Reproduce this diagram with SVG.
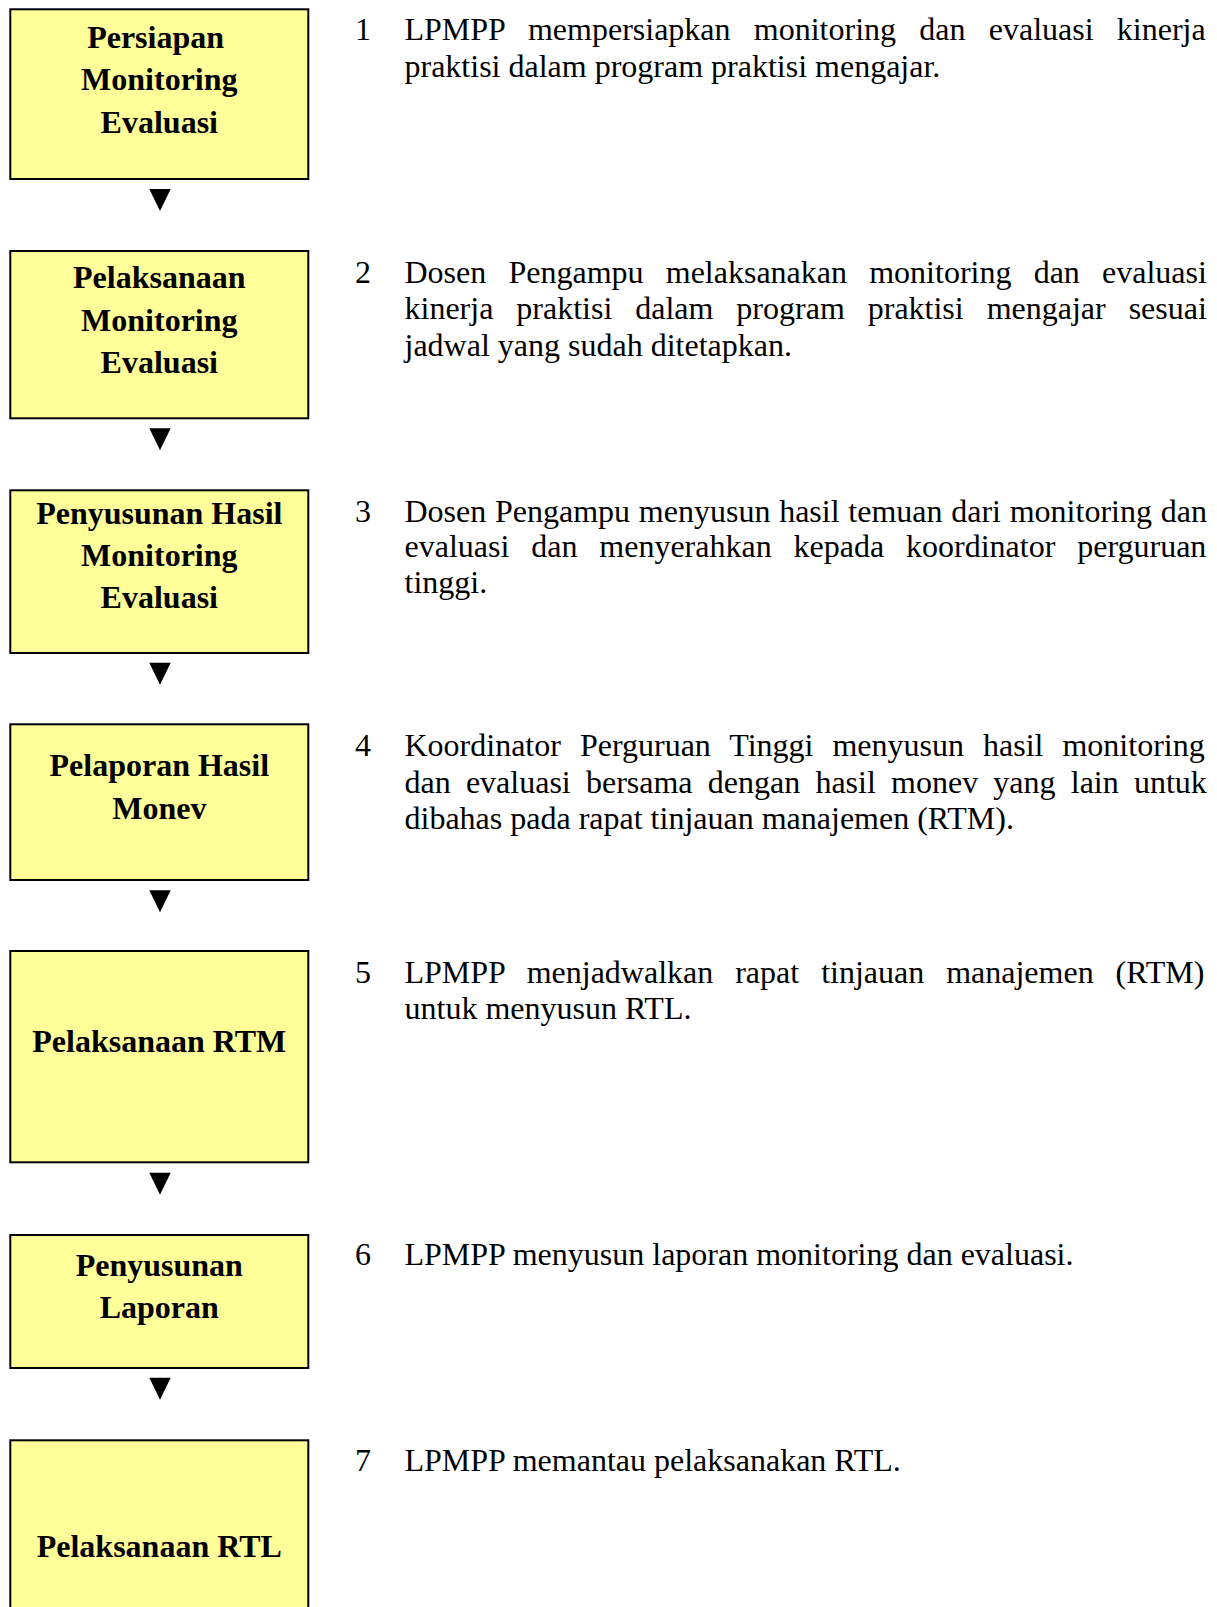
<svg xmlns="http://www.w3.org/2000/svg" width="1217" height="1607" viewBox="0 0 1217 1607">
<style>
.box{fill:#FFFF99;stroke:#000;stroke-width:2}
.bt{font-family:"Liberation Serif","Times New Roman",serif;font-weight:bold;font-size:32px;fill:#000;text-anchor:middle}
.tx{font-family:"Liberation Serif","Times New Roman",serif;font-size:32px;fill:#000}
.arr{fill:#000}
</style>
<rect width="1217" height="1607" fill="#fff"/>
<g id="connectors">
<polygon class="arr" points="149.3,189 170.7,189 160,211"/>
<polygon class="arr" points="149.3,428.3 170.7,428.3 160,450.3"/>
<polygon class="arr" points="149.3,662.7 170.7,662.7 160,684.7"/>
<polygon class="arr" points="149.3,890.3 170.7,890.3 160,912.3"/>
<polygon class="arr" points="149.3,1172.7 170.7,1172.7 160,1194.7"/>
<polygon class="arr" points="149.3,1377.7 170.7,1377.7 160,1399.7"/>
</g>
<g id="node1">
<rect class="box" x="10.3" y="9.3" width="298" height="169.7"/>
<text class="bt" x="155.6" y="48.3">Persiapan</text>
<text class="bt" x="159.3" y="90.3">Monitoring</text>
<text class="bt" x="159.3" y="132.5">Evaluasi</text>
</g>
<g id="node2">
<rect class="box" x="10.3" y="251" width="298" height="167.3"/>
<text class="bt" x="159.3" y="288.3">Pelaksanaan</text>
<text class="bt" x="159.3" y="330.7">Monitoring</text>
<text class="bt" x="159.3" y="372.7">Evaluasi</text>
</g>
<g id="node3">
<rect class="box" x="10.3" y="490.3" width="298" height="162.7"/>
<text class="bt" x="159.3" y="524.3">Penyusunan Hasil</text>
<text class="bt" x="159.3" y="566">Monitoring</text>
<text class="bt" x="159.3" y="608.3">Evaluasi</text>
</g>
<g id="node4">
<rect class="box" x="10.3" y="724.3" width="298" height="155.7"/>
<text class="bt" x="159.3" y="776">Pelaporan Hasil</text>
<text class="bt" x="159.3" y="819.3">Monev</text>
</g>
<g id="node5">
<rect class="box" x="10.3" y="951" width="298" height="211.3"/>
<text class="bt" x="159.3" y="1051.7">Pelaksanaan RTM</text>
</g>
<g id="node6">
<rect class="box" x="10.3" y="1235" width="298" height="133"/>
<text class="bt" x="159.3" y="1276">Penyusunan</text>
<text class="bt" x="159.3" y="1318.3">Laporan</text>
</g>
<g id="node7">
<rect class="box" x="10.3" y="1440.3" width="298" height="200"/>
<text class="bt" x="159.3" y="1556.7">Pelaksanaan RTL</text>
</g>
<g id="desc1">
<text class="tx" x="355" y="40">1</text>
<text class="tx" x="404.5" y="40" word-spacing="15.26">LPMPP mempersiapkan monitoring dan evaluasi kinerja</text>
<text class="tx" x="404.5" y="76.8">praktisi dalam program praktisi mengajar.</text>
</g>
<g id="desc2">
<text class="tx" x="355" y="282.5">2</text>
<text class="tx" x="404.5" y="282.5" word-spacing="14.2">Dosen Pengampu melaksanakan monitoring dan evaluasi</text>
<text class="tx" x="404.5" y="319" word-spacing="14.95">kinerja praktisi dalam program praktisi mengajar sesuai</text>
<text class="tx" x="404.5" y="355.5">jadwal yang sudah ditetapkan.</text>
</g>
<g id="desc3">
<text class="tx" x="355" y="521.7">3</text>
<text class="tx" x="404.5" y="521.7" word-spacing="0.74">Dosen Pengampu menyusun hasil temuan dari monitoring dan</text>
<text class="tx" x="404.5" y="557.3" word-spacing="13.88">evaluasi dan menyerahkan kepada koordinator perguruan</text>
<text class="tx" x="404.5" y="593">tinggi.</text>
</g>
<g id="desc4">
<text class="tx" x="355" y="756">4</text>
<text class="tx" x="404.5" y="756" word-spacing="11.0">Koordinator Perguruan Tinggi menyusun hasil monitoring</text>
<text class="tx" x="404.5" y="792.5" word-spacing="7.21">dan evaluasi bersama dengan hasil monev yang lain untuk</text>
<text class="tx" x="404.5" y="829">dibahas pada rapat tinjauan manajemen (RTM).</text>
</g>
<g id="desc5">
<text class="tx" x="355" y="982.7">5</text>
<text class="tx" x="404.5" y="982.7" word-spacing="13.96">LPMPP menjadwalkan rapat tinjauan manajemen (RTM)</text>
<text class="tx" x="404.5" y="1019.3">untuk menyusun RTL.</text>
</g>
<g id="desc6">
<text class="tx" x="355" y="1265">6</text>
<text class="tx" x="404.5" y="1265">LPMPP menyusun laporan monitoring dan evaluasi.</text>
</g>
<g id="desc7">
<text class="tx" x="355" y="1471">7</text>
<text class="tx" x="404.5" y="1471">LPMPP memantau pelaksanakan RTL.</text>
</g>
</svg>
